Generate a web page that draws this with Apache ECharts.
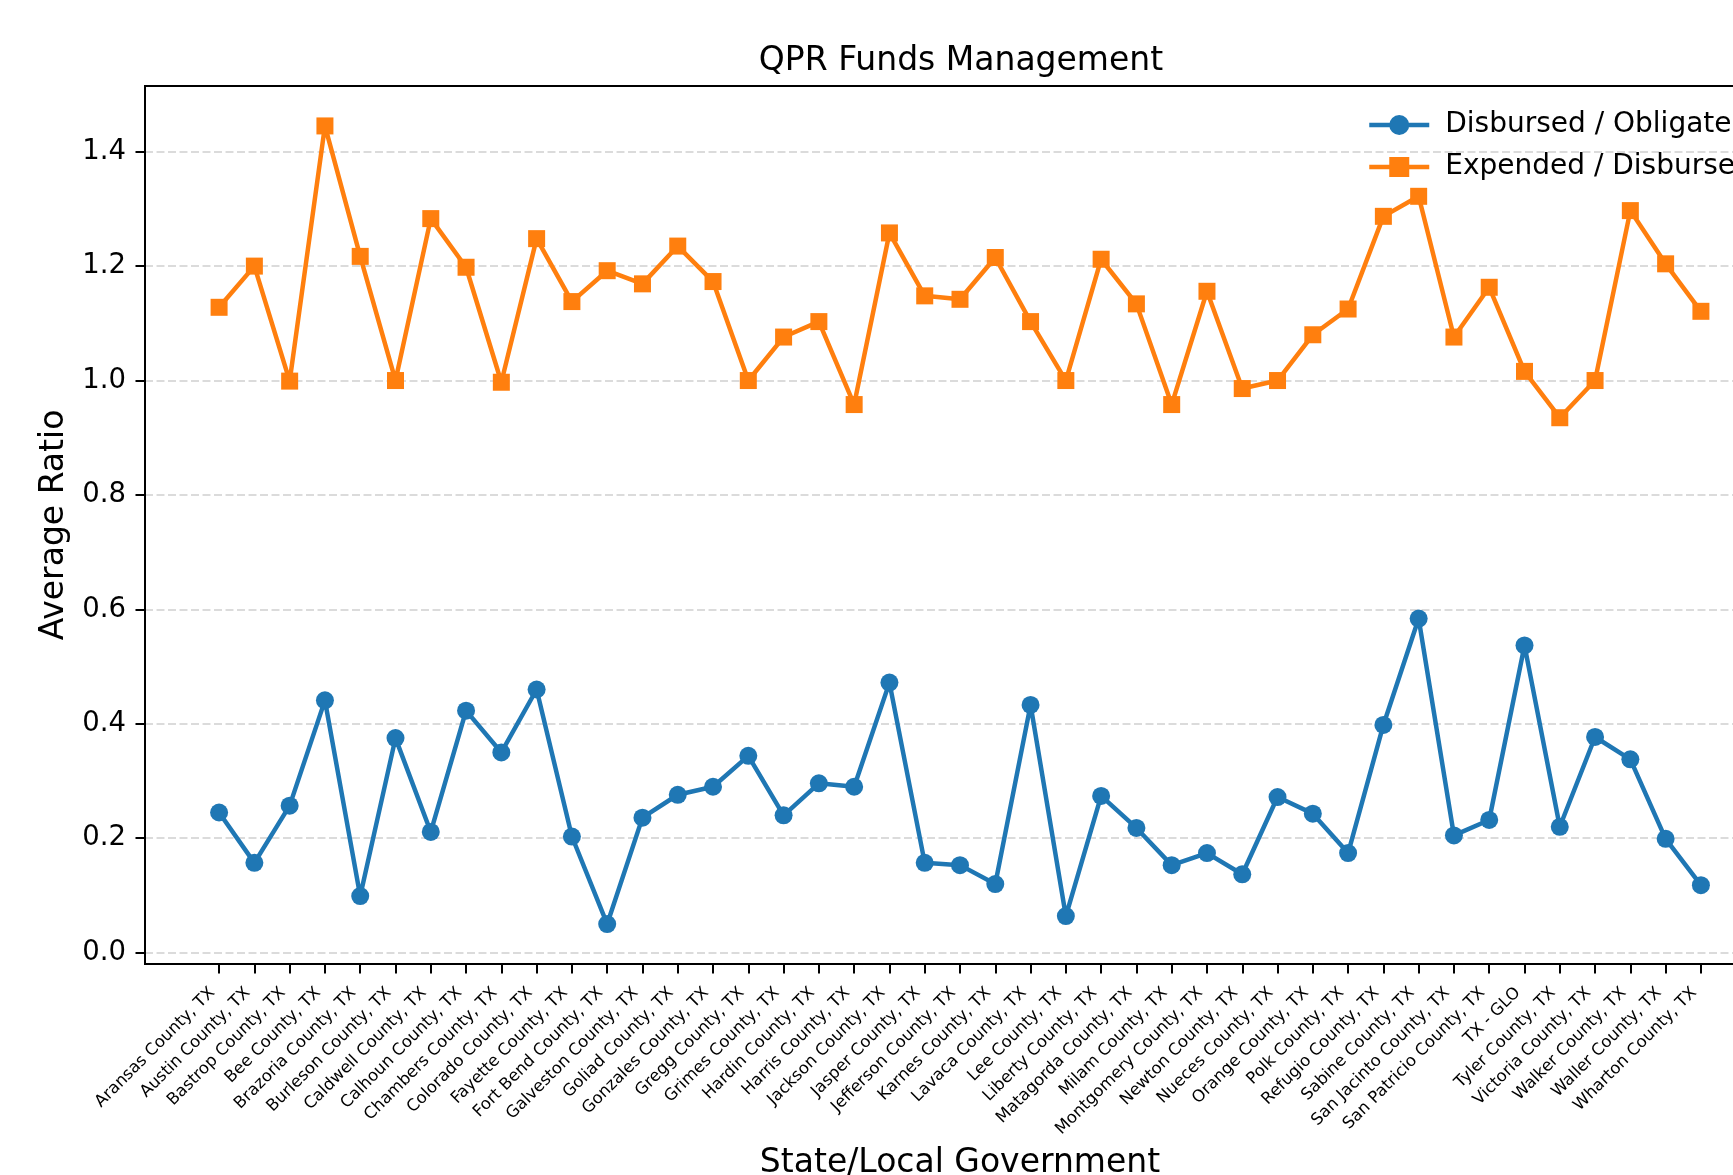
<!DOCTYPE html>
<html>
<head>
<meta charset="utf-8">
<script src="https://cdn.jsdelivr.net/npm/echarts@6/dist/echarts.min.js"></script>
<style>
  html, body { margin: 0; padding: 0; background: #fff; overflow: hidden; }
  #chart { width: 1800px; height: 1175px; }
</style>
</head>
<body>
<div id="chart"></div>
<script>
const categories = [
  "Aransas County, TX", "Austin County, TX", "Bastrop County, TX", "Bee County, TX",
  "Brazoria County, TX", "Burleson County, TX", "Caldwell County, TX", "Calhoun County, TX",
  "Chambers County, TX", "Colorado County, TX", "Fayette County, TX", "Fort Bend County, TX",
  "Galveston County, TX", "Goliad County, TX", "Gonzales County, TX", "Gregg County, TX",
  "Grimes County, TX", "Hardin County, TX", "Harris County, TX", "Jackson County, TX",
  "Jasper County, TX", "Jefferson County, TX", "Karnes County, TX", "Lavaca County, TX",
  "Lee County, TX", "Liberty County, TX", "Matagorda County, TX", "Milam County, TX",
  "Montgomery County, TX", "Newton County, TX", "Nueces County, TX", "Orange County, TX",
  "Polk County, TX", "Refugio County, TX", "Sabine County, TX", "San Jacinto County, TX",
  "San Patricio County, TX", "TX - GLO", "Tyler County, TX", "Victoria County, TX",
  "Walker County, TX", "Waller County, TX", "Wharton County, TX"
];

const disbursedObligated = [
  0.245, 0.157, 0.257, 0.441, 0.099, 0.375, 0.211, 0.423, 0.350, 0.460,
  0.203, 0.050, 0.236, 0.276, 0.290, 0.344, 0.240, 0.296, 0.290, 0.472,
  0.157, 0.153, 0.120, 0.433, 0.064, 0.274, 0.218, 0.153, 0.174, 0.137,
  0.272, 0.243, 0.174, 0.398, 0.584, 0.205, 0.232, 0.537, 0.220, 0.377,
  0.338, 0.199, 0.118
];

const expendedDisbursed = [
  1.128, 1.200, 0.999, 1.445, 1.217, 1.000, 1.283, 1.198, 0.997, 1.248,
  1.138, 1.192, 1.169, 1.235, 1.173, 1.000, 1.076, 1.103, 0.958, 1.258,
  1.148, 1.142, 1.215, 1.103, 1.000, 1.212, 1.134, 0.958, 1.156, 0.986,
  1.000, 1.080, 1.125, 1.287, 1.322, 1.076, 1.163, 1.016, 0.935, 1.000,
  1.297, 1.204, 1.121
];

const yTicks = [0.0, 0.2, 0.4, 0.6, 0.8, 1.0, 1.2, 1.4];

const seriesNames = ["Disbursed / Obligated", "Expended / Disbursed"];
const titleText = "QPR Funds Management";
const xAxisName = "State/Local Government";
const yAxisName = "Average Ratio";

const FONT = "DejaVu Sans";
const xIdx = categories.map((_, i) => i);

const chart = echarts.init(document.getElementById('chart'), null, { renderer: 'canvas' });

const option = {
  animation: false,
  backgroundColor: '#ffffff',
  textStyle: { fontFamily: FONT, color: '#000' },
  title: {
    text: titleText,
    left: 956,
    top: 40,
    textAlign: 'center',
    textStyle: { fontFamily: FONT, fontSize: 33, fontWeight: 'normal', color: '#000' }
  },
  legend: {
    orient: 'vertical',
    left: 1362,
    top: 106,
    itemWidth: 60,
    itemHeight: 25,
    itemGap: 14,
    data: seriesNames,
    lineStyle: { width: 4.5 },
    textStyle: { fontFamily: FONT, fontSize: 28, color: '#000', padding: [0, 0, 0, 11] }
  },
  grid: {
    left: 145,
    top: 86,
    right: 25,
    bottom: 211,
    outerBoundsMode: 'none',
    containLabel: false,
    show: true,
    borderColor: '#000',
    borderWidth: 2,
    backgroundColor: 'transparent'
  },
  xAxis: {
    type: 'value',
    min: -2.1,
    max: 44.1,
    name: xAxisName,
    nameLocation: 'middle',
    nameGap: 183,
    nameTextStyle: { fontFamily: FONT, fontSize: 33, color: '#000' },
    axisLine: { show: true, onZero: false, lineStyle: { color: '#000', width: 2 } },
    axisTick: { show: true, length: 9.5, lineStyle: { color: '#000', width: 2 }, customValues: xIdx },
    axisLabel: {
      show: true,
      customValues: xIdx,
      rotate: 45,
      margin: 19.6,
      padding: [0, 9.5, 0, 0],
      fontFamily: FONT,
      fontSize: 16.5,
      color: '#000',
      formatter: (v) => categories[Math.round(v)] || ''
    },
    splitLine: { show: false }
  },
  yAxis: {
    type: 'value',
    min: -0.0198,
    max: 1.5148,
    name: yAxisName,
    nameLocation: 'middle',
    nameRotate: 90,
    nameGap: 74,
    nameTextStyle: { fontFamily: FONT, fontSize: 33, color: '#000' },
    axisLine: { show: true, onZero: false, lineStyle: { color: '#000', width: 2 } },
    axisTick: { show: true, length: 9.5, lineStyle: { color: '#000', width: 2 }, customValues: yTicks },
    axisLabel: {
      show: true,
      customValues: yTicks,
      margin: 19,
      fontFamily: FONT,
      fontSize: 27.5,
      color: '#000',
      formatter: (v) => v.toFixed(1)
    },
    splitLine: {
      show: true,
      lineStyle: { color: 'rgba(176,176,176,0.6)', width: 1.6, type: [8, 3.5] }
    }
  },
  series: [
    {
      name: seriesNames[0],
      type: 'line',
      data: disbursedObligated.map((v, i) => [i, v]),
      symbol: 'circle',
      symbolSize: 18,
      showAllSymbol: true,
      itemStyle: { color: '#1f77b4' },
      lineStyle: { color: '#1f77b4', width: 4.5 },
      z: 3
    },
    {
      name: seriesNames[1],
      type: 'line',
      data: expendedDisbursed.map((v, i) => [i, v]),
      symbol: 'rect',
      symbolSize: 17,
      showAllSymbol: true,
      itemStyle: { color: '#ff7f0e' },
      lineStyle: { color: '#ff7f0e', width: 4.5 },
      z: 4
    }
  ]
};

chart.setOption(option);
</script>
</body>
</html>
